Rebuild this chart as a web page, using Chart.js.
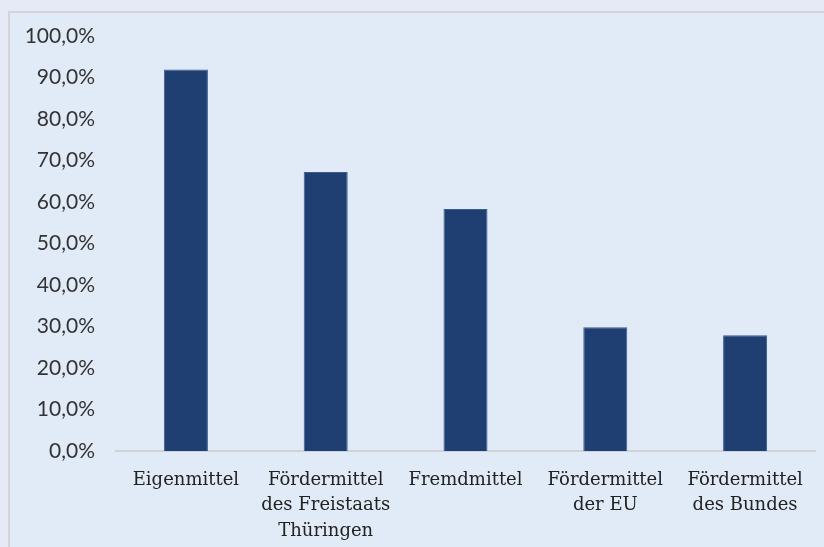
<!DOCTYPE html>
<html>
<head>
<meta charset="utf-8">
<script src="https://cdn.jsdelivr.net/npm/chart.js@4"></script>
<style>
  html, body { margin: 0; padding: 0; background: #e5eaf6; overflow: hidden; }
  #frame {
    position: absolute; left: 8px; top: 11px; width: 830px; height: 560px;
    border-left: 2px solid #d3d4d8; border-top: 2px solid #d3d4d8;
    background: #e1ebf7;
  }
  #wrap { position: absolute; left: 0; top: 0; width: 824px; height: 547px; }
</style>
</head>
<body>
<div id="frame"></div>
<div id="wrap"><canvas id="chart"></canvas></div>
<script>
const CATEGORIES = [
    'Eigenmittel',
    ['Fördermittel', 'des Freistaats', 'Thüringen'],
    'Fremdmittel',
    ['Fördermittel', 'der EU'],
    ['Fördermittel', 'des Bundes']
];
const SHARES = [0.919, 0.672, 0.583, 0.298, 0.279];

const BAR_COLOR = '#1f3e71';

const formatPercent = (v) => (v * 100).toFixed(1).replace('.', ',') + '%';

new Chart(document.getElementById('chart'), {
    type: 'bar',
    data: {
        labels: CATEGORIES,
        datasets: [{
            data: SHARES,
            backgroundColor: BAR_COLOR,
            borderColor: '#3d5b8c',
            borderWidth: 1,
            categoryPercentage: 1,
            barPercentage: 0.315
        }]
    },
    options: {
        responsive: true,
        maintainAspectRatio: false,
        animation: false,
        layout: { padding: { left: 0, right: 9, top: 36, bottom: 0 } },
        plugins: { legend: { display: false }, tooltip: { enabled: false } },
        scales: {
            x: {
                grid: { display: false, drawTicks: false },
                border: { display: true, color: '#cfd2d6', width: 2 },
                ticks: {
                    color: '#222222',
                    padding: 17,
                    maxRotation: 0,
                    autoSkip: false,
                    font: { family: 'DejaVu Serif', size: 18, lineHeight: 1.4 }
                },
                afterFit: (axis) => { axis.height = 96; }
            },
            y: {
                min: 0,
                max: 1,
                grid: { display: false, drawTicks: false },
                border: { display: false },
                ticks: {
                    stepSize: 0.1,
                    color: '#333333',
                    padding: 21,
                    font: { family: 'Lato', size: 21 },
                    callback: (v) => formatPercent(v)
                },
                afterFit: (axis) => { axis.width = 116; }
            }
        }
    }
});
</script>
</body>
</html>
